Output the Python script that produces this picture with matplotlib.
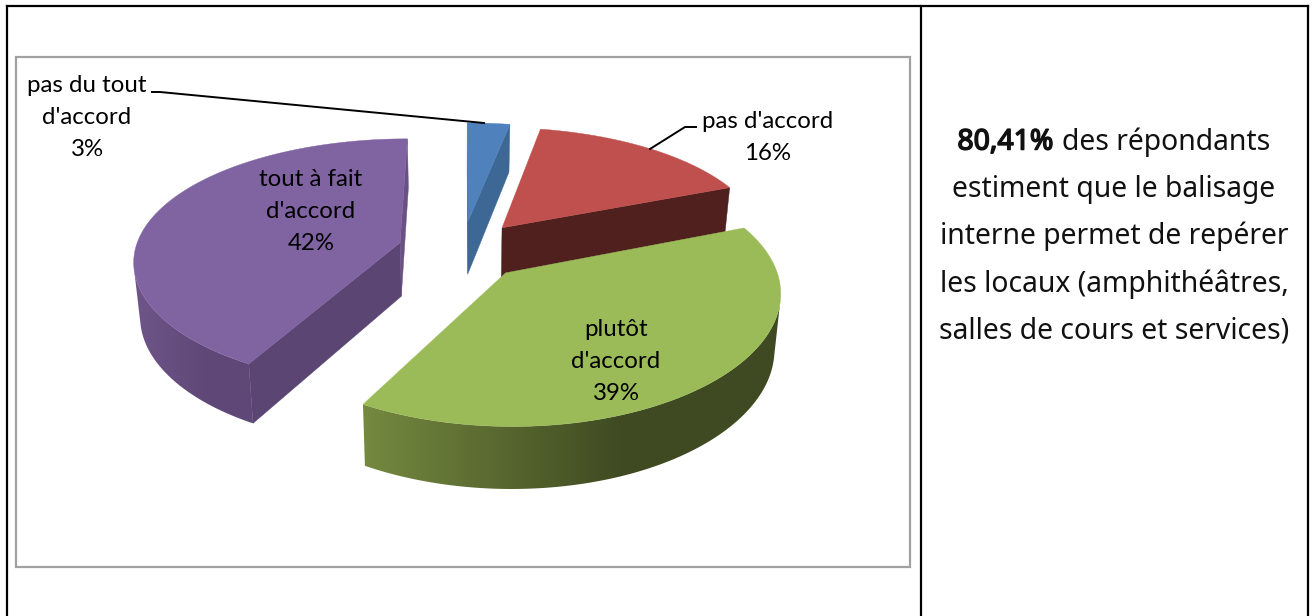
import numpy as np
import matplotlib
matplotlib.use("Agg")
import matplotlib.pyplot as plt
import matplotlib.patheffects as pe
from matplotlib.colors import to_rgb
from matplotlib.patches import Polygon, Rectangle

# ---- data
categories = ["pas du tout\nd'accord", "pas d'accord", "plutôt\nd'accord", "tout à fait\nd'accord"]
values = [3, 16, 39, 42]
top_colors = ["#4f81bd", "#c0504d", "#9bbb59", "#8064a2"]
face_colors = ["#3d6896", "#4f201e", "#3f4a22", "#5b4673"]
rim_left = ["#3d6896", "#4f201e", "#75893f", "#6f5589"]
rim_right = ["#3d6896", "#4f201e", "#3f4a22", "#5f4878"]
label_pos = [(87, 86), (768, 122), (616, 329), (311, 180)]
note_lines = [("80,41%", "des répondants"), ("", "estiment que le balisage"),
              ("", "interne permet de repérer"), ("", "les locaux (amphithéâtres,"),
              ("", "salles de cours et services)")]
note_y = [142, 189, 236, 284, 331]

# ---- projection of the exploded 3-D pie
X0, Y0, RX, RY, KX, KY, DEPTH, SHRINK, EXPLODE = 462, 250, 265, 122, 0.133, 0.1545, 55, 0.02, 0.243

def project(u, v, z=0.0):
    u, v = np.asarray(u), np.asarray(v)
    s = 1 + SHRINK * z
    return X0 + RX * u / ((1 + KX * v) * s), Y0 + (-RY * v + DEPTH * z) / ((1 + KY * v) * s)

def area(p):
    x, y = np.asarray(p).T
    return 0.5 * np.sum(x * np.roll(y, -1) - np.roll(x, -1) * y)

W, H = 1313, 616
fig = plt.figure(figsize=(W / 100, H / 100), dpi=100, facecolor="white")
ax = fig.add_axes([0, 0, 1, 1])
ax.axis("off")

# frame
ax.add_patch(Rectangle((16, 57), 894, 510, fc="white", ec="#a0a0a0", lw=1.6, zorder=1))
ax.plot([6.5, 6.5], [H, 6], color="black", lw=1.6, zorder=1, solid_capstyle="projecting")
ax.plot([6.5, 1307.5], [6, 6], color="black", lw=1.6, zorder=1, solid_capstyle="projecting")
ax.plot([1307.5, 1307.5], [6, H], color="black", lw=1.6, zorder=1)
ax.plot([920.5, 920.5], [6, H], color="black", lw=1.6, zorder=1)

edges = np.cumsum([0] + values) / sum(values) * 2 * np.pi
draw_order = [3, 0, 1, 2]
z = 2
for i in draw_order:
    a0, a1 = edges[i], edges[i + 1]
    mid = (a0 + a1) / 2
    ox, oy = EXPLODE * np.sin(mid), EXPLODE * np.cos(mid)
    t = np.linspace(a0, a1, 200)
    us, vs = ox + np.sin(t), oy + np.cos(t)
    # radial cut faces
    for ang, sign in ((a0, 1), (a1, -1)):
        uu = np.array([ox, ox + np.sin(ang)])
        vv = np.array([oy, oy + np.cos(ang)])
        tx, ty = project(uu, vv, 0)
        bx, by = project(uu, vv, 1)
        quad = np.column_stack([np.r_[tx, bx[::-1]], np.r_[ty, by[::-1]]])
        if area(quad) * sign < 0:
            col = face_colors[i] if abs(np.sin(ang)) > 0.05 else "#6b5085"
            ax.add_patch(Polygon(quad, fc=col, ec=col, lw=0.3, zorder=z))
    # outer rim: a horizontal gradient clipped to the visible part of the wall
    tx, ty = project(us, vs, 0)
    bx, by = project(us, vs, 1)
    vis = np.array([area([(tx[j], ty[j]), (tx[j + 1], ty[j + 1]), (bx[j + 1], by[j + 1]), (bx[j], by[j])]) < 0
                    for j in range(len(t) - 1)])
    if vis.any():
        idx = np.flatnonzero(vis)
        lo, hi = idx[0], idx[-1] + 2
        wall = np.column_stack([np.r_[tx[lo:hi], bx[lo:hi][::-1]], np.r_[ty[lo:hi], by[lo:hi][::-1]]])
        xmin, xmax = wall[:, 0].min(), wall[:, 0].max()
        ymin, ymax = wall[:, 1].min(), wall[:, 1].max()
        c0, c1 = np.array(to_rgb(rim_left[i])), np.array(to_rgb(rim_right[i]))
        f = np.minimum(1, np.linspace(0, 1, 256) / 0.62)[None, :, None]
        img = c0[None, None, :] + (c1 - c0)[None, None, :] * f
        im = ax.imshow(img, extent=(xmin, xmax, ymax, ymin), aspect="auto", zorder=z, interpolation="bilinear")
        clip = Polygon(wall, transform=ax.transData, fc="none", ec="none")
        ax.add_patch(clip)
        im.set_clip_path(clip)
    # top surface
    px, py = project(np.r_[ox, us], np.r_[oy, vs], 0)
    ax.add_patch(Polygon(np.column_stack([px, py]), fc=top_colors[i], ec=top_colors[i], lw=0.3, zorder=z + 1))
    z += 2

ax.set_xlim(0, W)
ax.set_ylim(H, 0)

# leader lines
ax.plot([152, 160, 484], [92, 92, 123], color="black", lw=1.4, zorder=20)
ax.plot([650, 685, 696], [149, 127, 127], color="black", lw=1.4, zorder=20)

# data labels
LS = 32
for cat, val, (x, y) in zip(categories, values, label_pos):
    for n, line in enumerate(cat.split("\n") + [f"{val}%"]):
        ax.text(x, y + n * LS, line, ha="center", va="center", family="Lato", fontsize=17.3, color="black", zorder=30)

# note text
rend = fig.canvas.get_renderer()
for (bold, reg), y in zip(note_lines, note_y):
    kw = dict(va="center", family="Noto Sans", fontsize=20.4, color="#111111", zorder=30)
    if bold:
        tb = ax.text(0, y, bold, path_effects=[pe.withStroke(linewidth=1.1, foreground="#111111")], **kw)
        tr = ax.text(0, y, reg, **kw)
        wb = tb.get_window_extent(rend).width
        wr = tr.get_window_extent(rend).width
        space = 9
        start = 1114 - (wb + wr + space) / 2
        tb.set_x(start)
        tr.set_x(start + wb + space)
    else:
        ax.text(1114, y, reg, ha="center", **kw)

fig.savefig("out.png", dpi=100)
